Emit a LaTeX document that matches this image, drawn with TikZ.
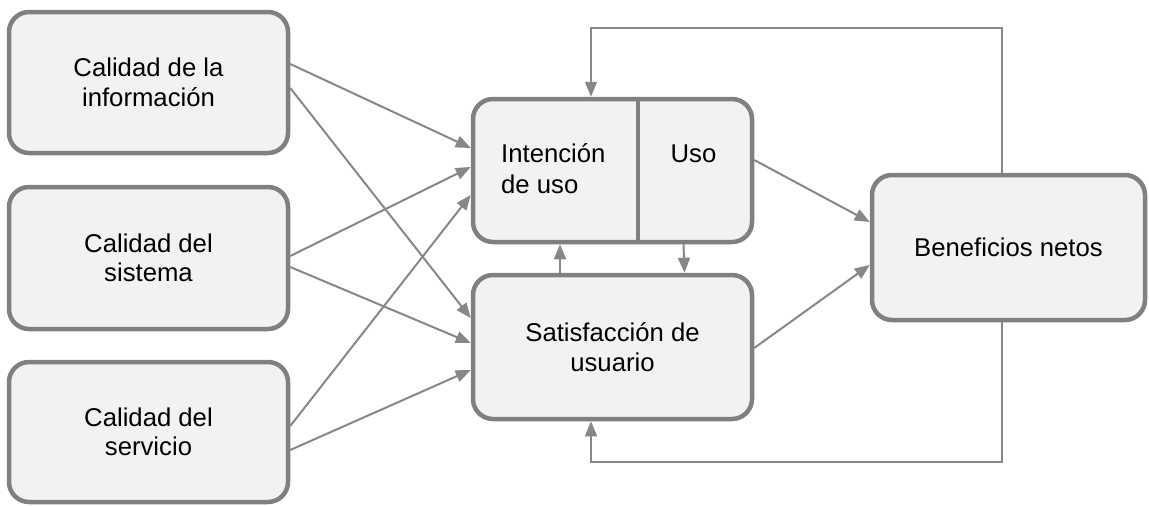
\documentclass[tikz,border=0pt]{standalone}
\usepackage{fontspec}
\setmainfont{Liberation Sans}
\usetikzlibrary{arrows.meta}
\definecolor{bordc}{HTML}{808080}
\definecolor{fillc}{HTML}{F2F2F2}
\definecolor{linec}{HTML}{878787}
\begin{document}
\begin{tikzpicture}[x=1pt,y=-1pt,
  box/.style={draw=bordc,fill=fillc,line width=4.5pt,rounded corners=20pt,
    minimum width=279pt,minimum height=141pt,inner sep=0pt,align=center,
    font=\fontsize{25.7}{29.5}\selectfont},
  txt/.style={inner sep=0pt,font=\fontsize{25.7}{31}\selectfont},
  conn/.style={draw=linec,line width=2pt,-{Triangle[length=15pt,width=12pt]}},
  fb/.style={draw=linec,line width=1.6pt,-{Triangle[length=15pt,width=12pt]}}]
\useasboundingbox (0,0) rectangle (1149,506);
\node[box] (info) at (148.5,82.5) {Calidad de la\\información};
\node[box,minimum height=142pt] (sist) at (148.5,258) {Calidad del\\sistema};
\node[box,minimum height=140pt] (serv) at (148.5,432) {Calidad del\\servicio};
\node[box,minimum height=143pt] (int) at (612.5,170.5) {};
\node[box,minimum height=144pt] (sat) at (612.5,347) {Satisfacción de\\usuario};
\node[box,minimum width=273pt,minimum height=145pt] (ben) at (1008.5,247.5) {Beneficios netos};
\draw[draw=bordc,line width=4.5pt] ([xshift=25.5pt]int.north) coordinate (dtop) -- (dtop |- int.south);
\node[txt,anchor=base west,align=left] (tint) at (501,193) {Intención\\de uso};
\node[txt,anchor=base] (tuso) at (693.5,162) {Uso};
% left connectors
\draw[conn] ([yshift=18.5pt]info.east) -- ([yshift=22.5pt]int.west);
\draw[conn] ([yshift=-5.5pt]info.east) -- ([yshift=29pt]sat.west);
\draw[conn] ([yshift=2pt]sist.east) -- ([yshift=3.5pt]int.west);
\draw[conn] ([yshift=-9pt]sist.east) -- ([yshift=4pt]sat.west);
\draw[conn] ([yshift=6pt]serv.east) -- ([yshift=-24.5pt]int.west);
\draw[conn] ([yshift=-18pt]serv.east) -- ([yshift=-23pt]sat.west);
% middle
\draw[conn] ([xshift=-52.5pt]sat.north) -- ([xshift=-52.5pt]int.south);
\draw[conn] ([xshift=71pt]int.south) -- ([xshift=72pt]sat.north);
\draw[conn] ([yshift=10.5pt]int.east) -- ([yshift=25.5pt]ben.west);
\draw[conn] ([yshift=-1pt]sat.east) -- ([yshift=-17.5pt]ben.west);
% feedback
\coordinate (topy) at (0,28);
\coordinate (boty) at (0,462);
\coordinate (bt) at ([xshift=-6.5pt]ben.north);
\coordinate (bb) at ([xshift=-6.5pt]ben.south);
\coordinate (it) at ([xshift=-21.5pt]int.north);
\coordinate (sb) at ([xshift=-21.5pt]sat.south);
\draw[fb] (bt) -- (bt |- topy) -- (it |- topy) -- (it);
\draw[fb] (bb) -- (bb |- boty) -- (sb |- boty) -- (sb);
\end{tikzpicture}
\end{document}
